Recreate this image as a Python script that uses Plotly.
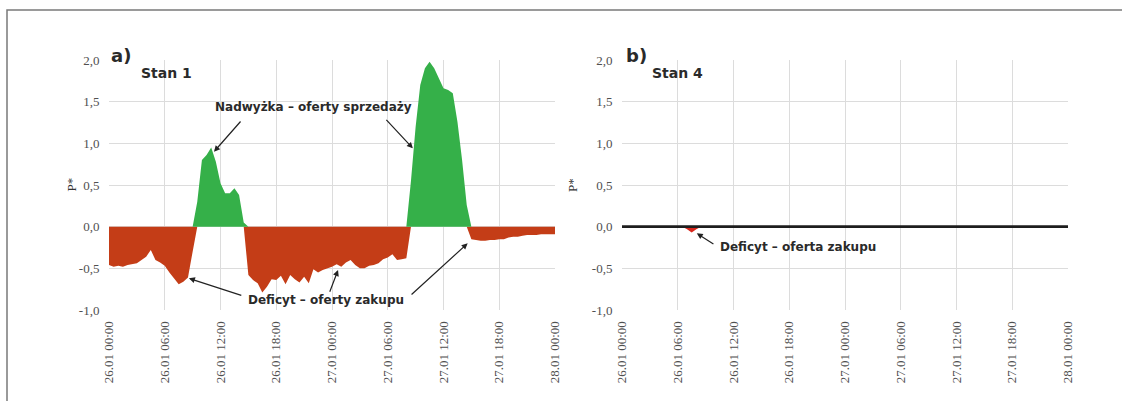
import plotly.graph_objects as go
import pandas as pd

# ---------------- data ----------------
times = pd.date_range("2016-01-26 00:00", "2016-01-28 00:00", freq="30min")

# Stan 1 : P* every 30 min (26.01 00:00 ... 28.01 00:00)
stan1 = [
    -0.46, -0.48, -0.47, -0.48, -0.46, -0.45, -0.44, -0.40, -0.36, -0.28,   # 0:00-4:30
    -0.40, -0.43, -0.47, -0.55, -0.62, -0.69, -0.66, -0.61, -0.30, 0.30,    # 5:00-9:30
    0.80, 0.86, 0.95, 0.78, 0.52, 0.40, 0.40, 0.46, 0.38, 0.05,             # 10:00-14:30
    -0.58, -0.64, -0.68, -0.79, -0.72, -0.63, -0.64, -0.59, -0.69, -0.58,   # 15:00-19:30
    -0.63, -0.67, -0.60, -0.68, -0.51, -0.55, -0.52, -0.50, -0.48, -0.45,   # 20:00-24:30
    -0.48, -0.43, -0.40, -0.46, -0.50, -0.50, -0.47, -0.46, -0.44, -0.39,   # 25:00-29:30
    -0.37, -0.33, -0.40, -0.39, -0.38, 0.55, 1.20, 1.70, 1.90, 1.98,        # 30:00-34:30
    1.90, 1.78, 1.66, 1.64, 1.60, 1.26, 0.80, 0.26, -0.15, -0.16,           # 35:00-39:30
    -0.17, -0.17, -0.16, -0.16, -0.15, -0.15, -0.13, -0.12, -0.12, -0.11,   # 40:00-44:30
    -0.10, -0.10, -0.10, -0.09, -0.09, -0.09, -0.09,                        # 45:00-48:00
]

# Stan 4 : P* every 30 min
stan4 = [
    0.0, 0.0, 0.0, 0.0, 0.0, 0.0, 0.0, 0.0, 0.0, 0.0,
    0.0, 0.0, 0.0, 0.0, -0.03, -0.07, -0.03, 0.0, 0.0, 0.0,
    0.0, 0.0, 0.0, 0.0, 0.0, 0.0, 0.0, 0.0, 0.0, 0.0,
    0.0, 0.0, 0.0, 0.0, 0.0, 0.0, 0.0, 0.0, 0.0, 0.0,
    0.0, 0.0, 0.0, 0.0, 0.0, 0.0, 0.0, 0.0, 0.0, 0.0,
    0.0, 0.0, 0.0, 0.0, 0.0, 0.0, 0.0, 0.0, 0.0, 0.0,
    0.0, 0.0, 0.0, 0.0, 0.0, 0.0, 0.0, 0.0, 0.0, 0.0,
    0.0, 0.0, 0.0, 0.0, 0.0, 0.0, 0.0, 0.0, 0.0, 0.0,
    0.0, 0.0, 0.0, 0.0, 0.0, 0.0, 0.0, 0.0, 0.0, 0.0,
    0.0, 0.0, 0.0, 0.0, 0.0, 0.0, 0.0,
]
assert len(stan1) == len(times) == len(stan4)

tick_times = pd.date_range("2016-01-26 00:00", "2016-01-28 00:00", freq="6h")
tick_labels = ["26.01 00:00", "26.01 06:00", "26.01 12:00", "26.01 18:00",
               "27.01 00:00", "27.01 06:00", "27.01 12:00", "27.01 18:00",
               "28.01 00:00"]
y_ticks = [-1.0, -0.5, 0.0, 0.5, 1.0, 1.5, 2.0]
y_labels = ["-1,0", "-0,5", "0,0", "0,5", "1,0", "1,5", "2,0"]

GREEN = "#35b049"
RED = "#c43d17"
base = pd.Timestamp("2016-01-26 00:00")


def T(h):
    return (base + pd.Timedelta(hours=h)).strftime("%Y-%m-%d %H:%M:%S")


# ---------------- figure ----------------
fig = go.Figure()

pos1 = [max(v, 0) for v in stan1]
neg1 = [min(v, 0) for v in stan1]
fig.add_trace(go.Scatter(x=times, y=neg1, fill="tozeroy", mode="lines",
                         line=dict(width=0, color=RED), fillcolor=RED,
                         xaxis="x", yaxis="y", showlegend=False, hoverinfo="skip"))
fig.add_trace(go.Scatter(x=times, y=pos1, fill="tozeroy", mode="lines",
                         line=dict(width=0, color=GREEN), fillcolor=GREEN,
                         xaxis="x", yaxis="y", showlegend=False, hoverinfo="skip"))

neg4 = [min(v, 0) for v in stan4]
fig.add_trace(go.Scatter(x=times, y=neg4, fill="tozeroy", mode="lines",
                         line=dict(width=0, color="#d8261c"), fillcolor="#d8261c",
                         xaxis="x2", yaxis="y2", showlegend=False, hoverinfo="skip"))
fig.add_trace(go.Scatter(x=times, y=[max(v, 0) for v in stan4], mode="lines",
                         line=dict(width=2.7, color="#1e1e1e"),
                         xaxis="x2", yaxis="y2", showlegend=False, hoverinfo="skip"))

W, H = 1122, 401
xl = (109 / W, 555 / W)
xr = (622 / W, 1068 / W)
yd = (1 - 310 / H, 1 - 60 / H)

tickfont = dict(family="Liberation Serif, Times New Roman, serif", size=13, color="#505050")
xcommon = dict(range=[times[0], times[-1]], tickvals=tick_times, ticktext=tick_labels,
               tickangle=-90, showgrid=True, gridcolor="#dcdcdc", gridwidth=1,
               zeroline=False, showline=False, ticks="outside", ticklen=5,
               tickcolor="rgba(0,0,0,0)", tickfont=tickfont, fixedrange=True,
               automargin=False)
ycommon = dict(range=[-1, 2], tickvals=y_ticks, ticktext=y_labels,
               showgrid=True, gridcolor="#dcdcdc", gridwidth=1,
               zeroline=False, showline=False, ticks="outside", ticklen=6,
               tickcolor="rgba(0,0,0,0)", tickfont=tickfont, fixedrange=True,
               automargin=False)

fig.update_layout(
    width=W, height=H, margin=dict(l=0, r=0, t=0, b=0, pad=0), autosize=False,
    paper_bgcolor="white", plot_bgcolor="white",
    xaxis=dict(domain=xl, anchor="y", **xcommon),
    yaxis=dict(domain=yd, anchor="x", **ycommon),
    xaxis2=dict(domain=xr, anchor="y2", **xcommon),
    yaxis2=dict(domain=yd, anchor="x2", **ycommon),
    showlegend=False, hovermode=False,
)

bold = dict(family="DejaVu Sans, Verdana, sans-serif", size=12, color="#2a2a2a")
ann = []
# panel letters
ann.append(dict(text="<b>a)</b>", x=109 / W, y=1 - 43 / H, xref="paper", yref="paper",
                xanchor="left", showarrow=False,
                font=dict(family="DejaVu Sans", size=18, color="#2a2a2a")))
ann.append(dict(text="<b>b)</b>", x=624 / W, y=1 - 43 / H, xref="paper", yref="paper",
                xanchor="left", showarrow=False,
                font=dict(family="DejaVu Sans", size=18, color="#2a2a2a")))
# y titles
for xp in (61, 572):
    ann.append(dict(text="P*", x=xp / W, y=1 - 185 / H, xref="paper", yref="paper",
                    showarrow=False, textangle=-90,
                    font=dict(family="Liberation Serif, serif", size=13, color="#333")))
# Stan labels
ann.append(dict(text="<b>Stan 1</b>", x=T(6.2), y=1.84, xref="x", yref="y",
                showarrow=False, font=dict(family="DejaVu Sans", size=14, color="#2a2a2a")))
ann.append(dict(text="<b>Stan 4</b>", x=T(6.0), y=1.84, xref="x2", yref="y2",
                showarrow=False, font=dict(family="DejaVu Sans", size=14, color="#2a2a2a")))
# Nadwyżka
ann.append(dict(text="<b>Nadwyżka – oferty sprzedaży</b>", x=T(22.0), y=1.44,
                xref="x", yref="y", showarrow=False, font=bold))
arrow = dict(showarrow=True, arrowhead=2, arrowsize=1.0, arrowwidth=1.2,
             arrowcolor="#222", text="", axref="x", ayref="y", xref="x", yref="y")
for (tip_h, tip_v, tail_h, tail_v) in [(11.3, 0.90, 14.3, 1.28), (32.7, 0.94, 29.7, 1.30)]:
    ann.append(dict(x=T(tip_h), y=tip_v, ax=T(tail_h), ay=tail_v, **arrow))
# Deficyt (left)
ann.append(dict(text="<b>Deficyt – oferty zakupu</b>", x=T(23.4), y=-0.88,
                xref="x", yref="y", showarrow=False, font=bold))
for (tip_h, tip_v, tail_h, tail_v) in [(8.6, -0.62, 14.4, -0.83),
                                       (24.65, -0.52, 23.7, -0.80),
                                       (38.6, -0.20, 32.4, -0.83)]:
    ann.append(dict(x=T(tip_h), y=tip_v, ax=T(tail_h), ay=tail_v, **arrow))
# Deficyt (right)
ann.append(dict(text="<b>Deficyt – oferta zakupu</b>", x=T(10.3), y=-0.24,
                xref="x2", yref="y2", xanchor="left", showarrow=False, font=bold))
arrow2 = dict(arrow, axref="x2", ayref="y2", xref="x2", yref="y2")
ann.append(dict(x=T(8.05), y=-0.08, ax=T(10.0), ay=-0.22, **arrow2))
fig.update_layout(annotations=ann)

# outer frame
fig.add_shape(type="rect", xref="paper", yref="paper", x0=7 / W, x1=1.02, y0=-0.05, y1=1 - 10 / H,
              line=dict(color="#7a7a7a", width=1.5), fillcolor="rgba(0,0,0,0)", layer="above")

fig.write_html("out.html", config={"displayModeBar": False, "staticPlot": True},
               post_script="document.body.style.margin='0';document.body.style.overflow='hidden';")
